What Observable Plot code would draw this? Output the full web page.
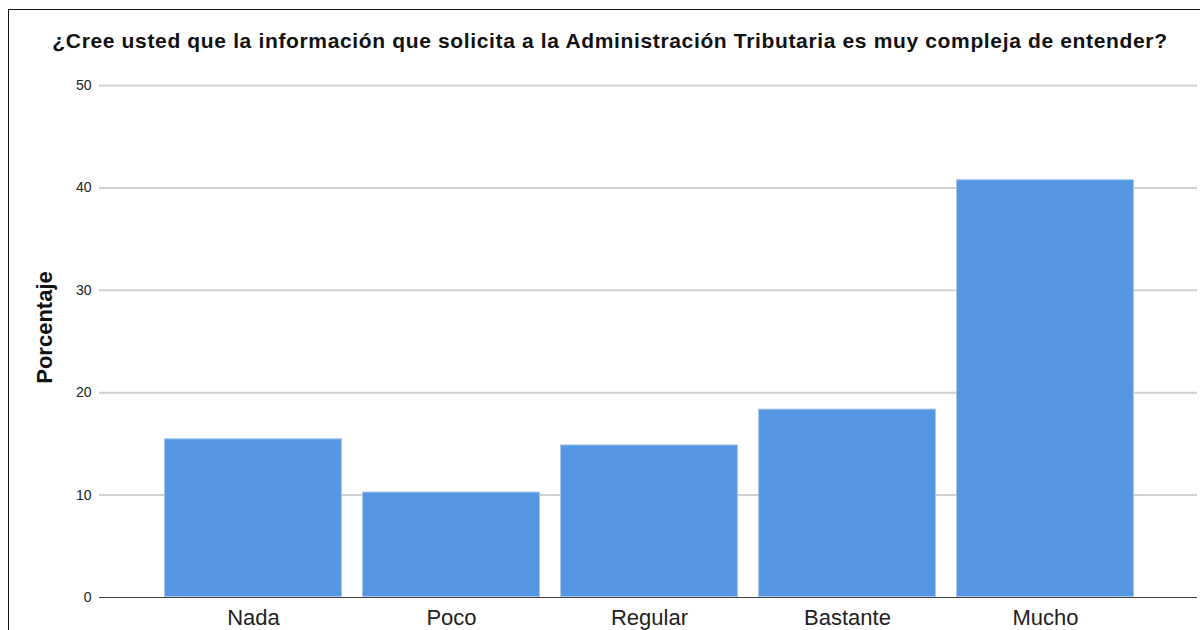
<!DOCTYPE html>
<html>
<head>
<meta charset="utf-8">
<script src="https://cdn.jsdelivr.net/npm/d3@7"></script>
<script src="https://cdn.jsdelivr.net/npm/@observablehq/plot@0.6"></script>
<style>
  html, body { margin: 0; padding: 0; background: #fff; overflow: hidden; }
  #wrap { position: relative; width: 1200px; height: 630px; font-family: "Liberation Sans", Arial, sans-serif; }
  #frame { position: absolute; left: 8px; top: 9px; width: 1192px; height: 621px; border-top: 1px solid #111; border-left: 1px solid #111; box-sizing: border-box; pointer-events: none; }
  #title { position: absolute; left: 0; top: 29px; width: 1220px; text-align: center; font-weight: bold; font-size: 21px; letter-spacing: 0.65px; color: #111; line-height: 24px; white-space: nowrap; }
  #chart { position: absolute; left: 0; top: 60px; }
</style>
</head>
<body>
<div id="wrap">
  <div id="frame"></div>
  <div id="title">¿Cree usted que la información que solicita a la Administración Tributaria es muy compleja de entender?</div>
  <div id="chart"></div>
</div>
<script>
const categories = ["Nada", "Poco", "Regular", "Bastante", "Mucho"];
const percentages = [15.5, 10.3, 14.9, 18.4, 40.8];
const yTicks = [0, 10, 20, 30, 40, 50];
const yLabel = "Porcentaje";

const data = categories.map((c, i) => ({category: c, value: percentages[i]}));

const plot = Plot.plot({
  width: 1200,
  height: 570,
  marginTop: 25,
  marginBottom: 33,
  marginLeft: 99,
  marginRight: 3,
  style: {fontFamily: "'Liberation Sans', Arial, sans-serif", color: "#222", overflow: "visible"},
  x: {domain: categories, range: [144, 1154], padding: 0.1, label: null},
  y: {domain: [0, 50], ticks: yTicks, label: null},
  marks: [
    Plot.ruleY(yTicks.filter(d => d > 0), {stroke: "#cfcfcf", strokeWidth: 2}),
    Plot.barY(data, {x: "category", y: "value", fill: "#5596e3", stroke: "#a9c8f0", strokeWidth: 1, inset: 0.5}),
    Plot.ruleX([0], {x: () => 99, y1: 0, y2: 51.6, stroke: "#999", strokeWidth: 1.5}),
    Plot.ruleY([0], {stroke: "#444", strokeWidth: 1.2}),
    Plot.axisY({ticks: yTicks, tickSize: 0, tickPadding: 8, fontSize: 14, label: null}),
    Plot.axisX({tickSize: 0, tickPadding: 12, fontSize: 22, label: null, fill: "#222"}),
    Plot.text([yLabel], {frameAnchor: "left", textAnchor: "middle", dx: -55, dy: -14, rotate: -90, fontSize: 22, fontWeight: "bold", fill: "#111"})
  ]
});
document.getElementById("chart").appendChild(plot);
</script>
</body>
</html>
